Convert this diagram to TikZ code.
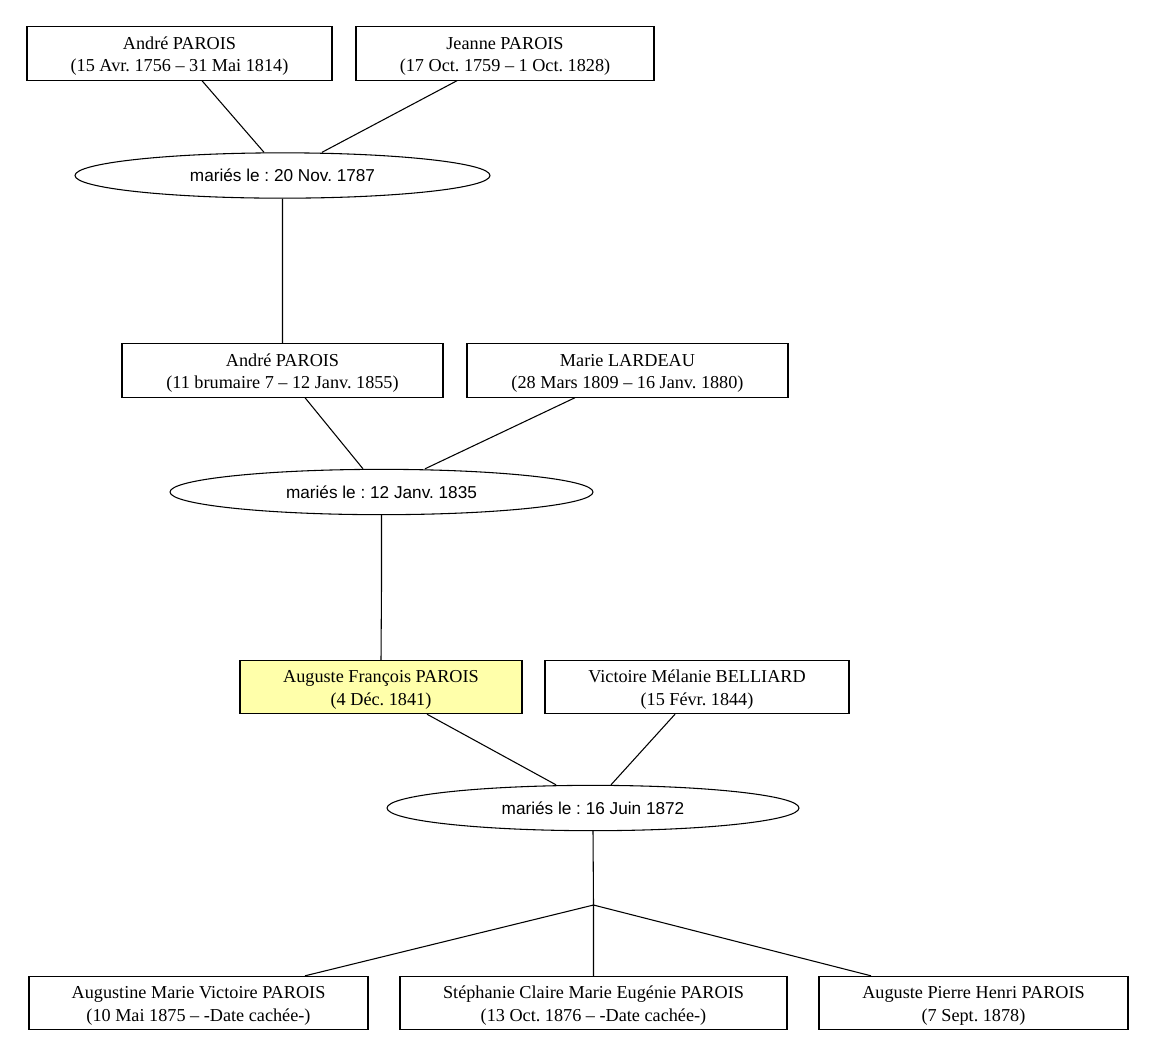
\documentclass[tikz,border=0pt]{standalone}
\usepackage{fontspec}
\setmainfont{Liberation Serif}
\newfontfamily\marriagefont{Liberation Sans}
\usetikzlibrary{shapes.geometric,calc}

\definecolor{rootyellow}{RGB}{255,255,170}

\tikzset{
	person/.style = {draw, rectangle, line width = 0.8pt, align = center, inner sep = 0pt,
		font = \fontsize{13.66pt}{17pt}\selectfont, text height = 30.5pt,
		minimum height = 40pt, minimum width = #1},
	union/.style = {draw, ellipse, line width = 0.8pt, inner sep = 0pt,
		font = \marriagefont\fontsize{12.9pt}{15pt}\selectfont, minimum height = 34pt, minimum width = #1},
	link/.style = {line width = 0.8pt}
}

\begin{document}
\frenchspacing
\begin{tikzpicture}[x = 0.75pt, y = -0.75pt]
	\useasboundingbox (0,0) rectangle (1155,1058);

	\node[person = 228.75pt] (AndreA) at (179.5,53.5) {André PAROIS\\(15 Avr. 1756 – 31 Mai 1814)};
	\node[person = 223.5pt] (Jeanne) at (505,53.5) {Jeanne PAROIS\\(17 Oct. 1759 – 1 Oct. 1828)};
	\node[union = 311.25pt] (M1787) at (282.5,175.5) {mariés le : 20 Nov. 1787};
	\coordinate (P1) at (282.5,270);

	\node[person = 240.75pt] (AndreB) at (282.5,370.5) {André PAROIS\\(11 brumaire 7 – 12 Janv. 1855)};
	\node[person = 240.75pt] (Marie) at (627.5,370.5) {Marie LARDEAU\\(28 Mars 1809 – 16 Janv. 1880)};
	\node[union = 317.25pt] (M1835) at (381.5,492) {mariés le : 12 Janv. 1835};
	\coordinate (P2) at (381.5,586);

	\node[person = 211.5pt, fill = rootyellow] (Auguste) at (381,687) {Auguste François PAROIS\\(4 Déc. 1841)};
	\node[person = 228pt] (Victoire) at (697,687) {Victoire Mélanie BELLIARD\\(15 Févr. 1844)};
	\node[union = 309pt] (M1872) at (593,808) {mariés le : 16 Juin 1872};
	\coordinate (P3) at (593.5,905);

	\node[person = 254.25pt] (Augustine) at (198.5,1003) {Augustine Marie Victoire PAROIS\\(10 Mai 1875 – -Date cachée-)};
	\node[person = 290.25pt] (Stephanie) at (593.5,1003) {Stéphanie Claire Marie Eugénie PAROIS\\(13 Oct. 1876 – -Date cachée-)};
	\node[person = 231.75pt] (AugusteP) at (973.5,1003) {Auguste Pierre Henri PAROIS\\(7 Sept. 1878)};

	\draw[link]
	($(AndreA.south)+(22.5,0)$) -- ($(M1787.north)+(-18.5,0)$)
	($(Jeanne.south)+(-48,0)$) -- ($(M1787.north)+(39.5,0)$)
	(M1787.south) -- (P1) -- (AndreB.north)

	($(AndreB.south)+(22.5,0)$) -- ($(M1835.north)+(-18.5,0)$)
	($(Marie.south)+(-52.5,0)$) -- ($(M1835.north)+(43.5,0)$)
	(M1835.south) -- (P2) -- (Auguste.north)

	($(Auguste.south)+(46,0)$) -- ($(M1872.north)+(-37,0)$)
	($(Victoire.south)+(-22,0)$) -- ($(M1872.north)+(18,0)$)
	(M1872.south) -- (P3)
	(P3) -- ($(Augustine.north)+(106.5,0)$)
	(P3) -- (Stephanie.north)
	(P3) -- ($(AugusteP.north)+(-102.5,0)$);
\end{tikzpicture}
\end{document}
